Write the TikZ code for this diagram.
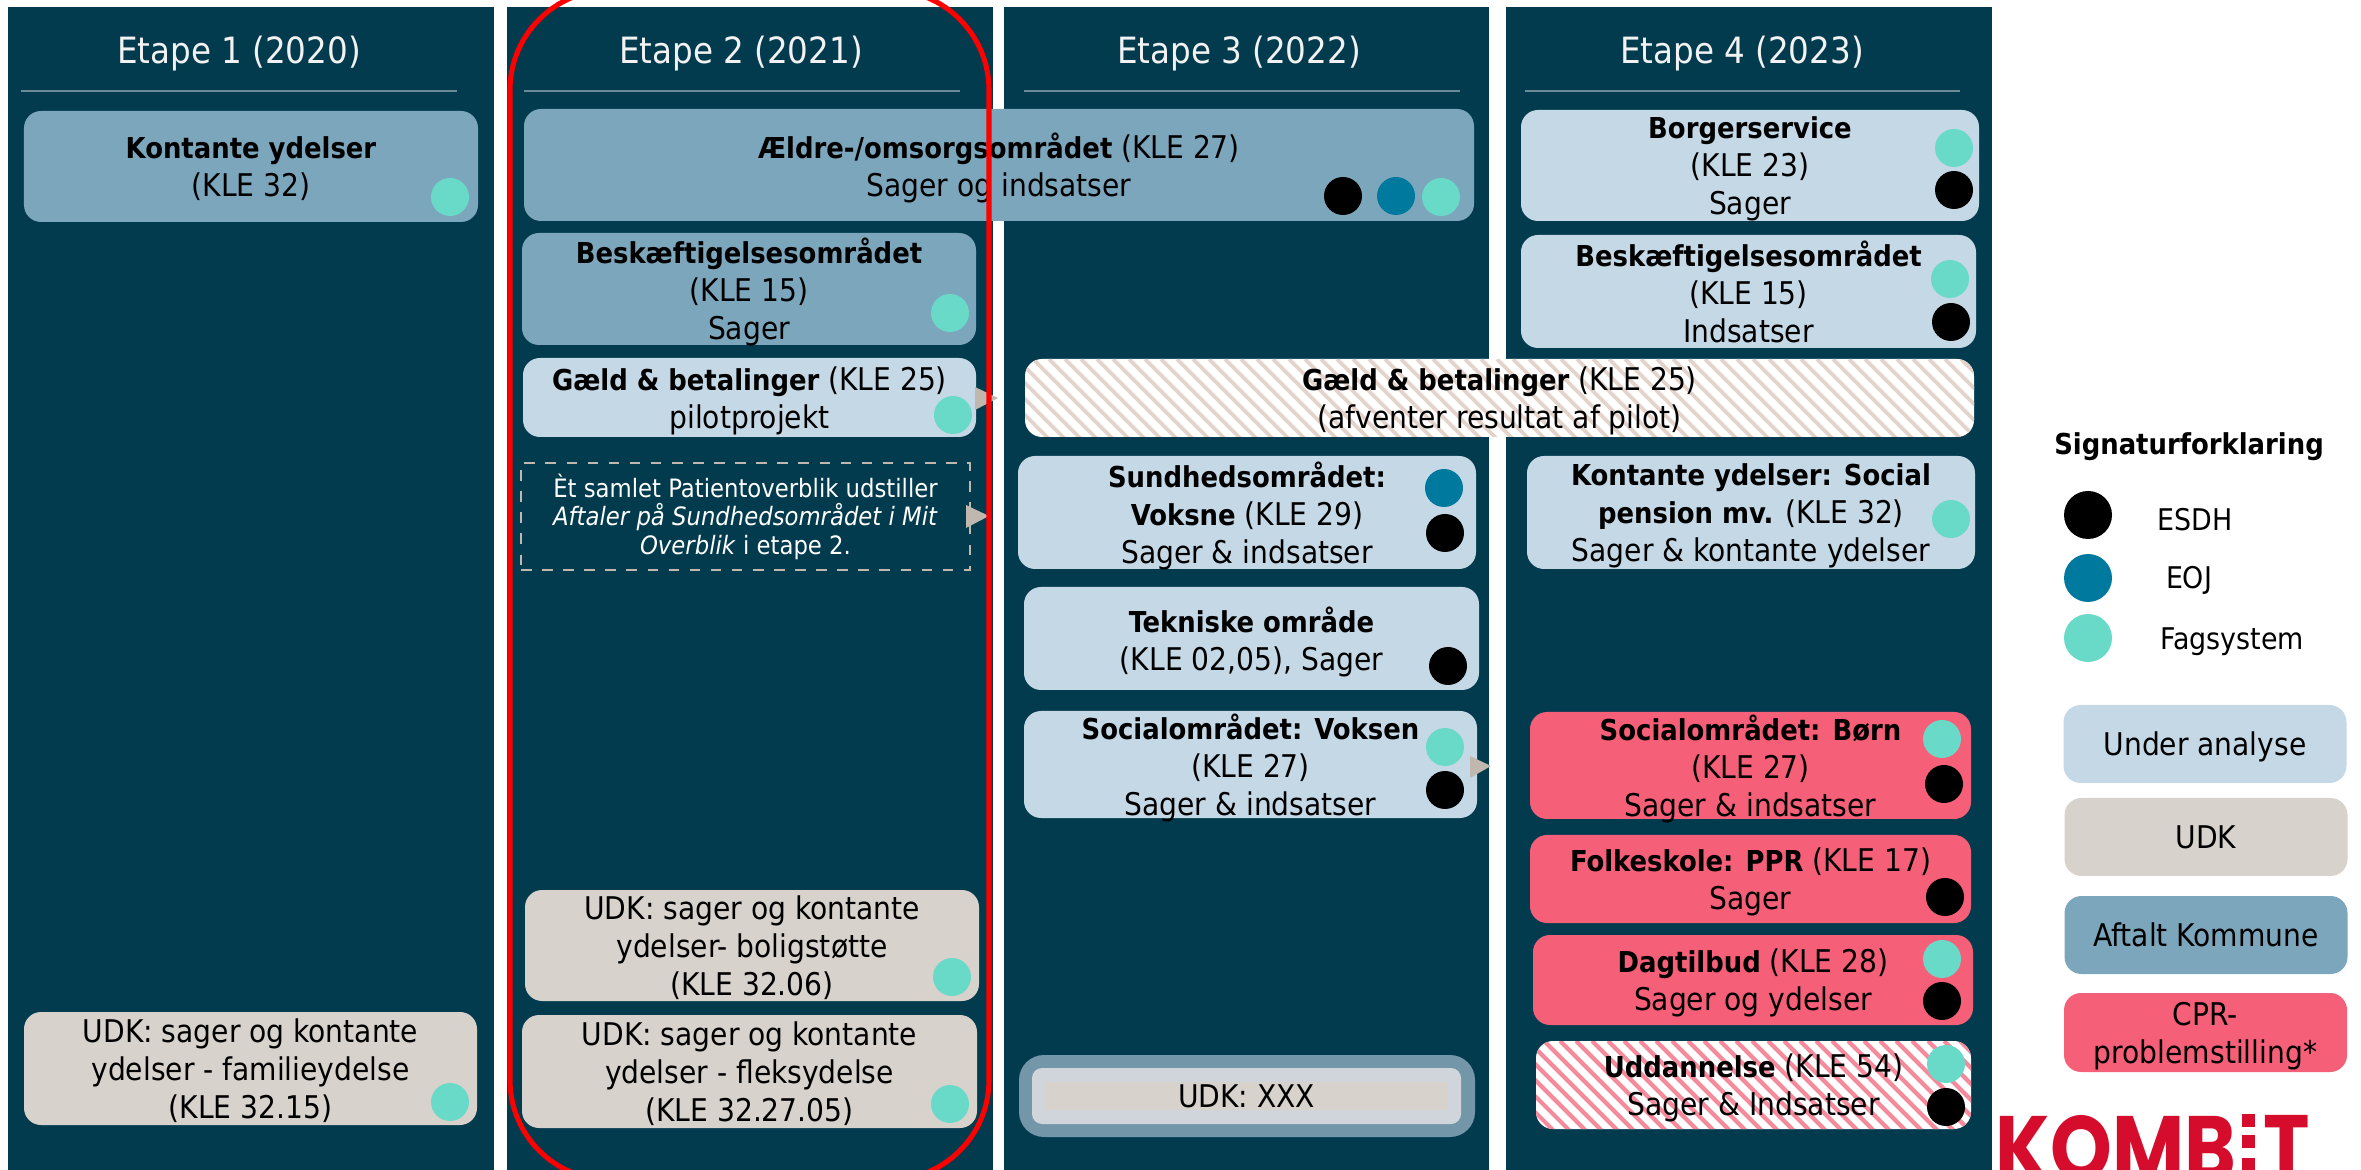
\documentclass[tikz,border=0pt]{standalone}
\usepackage{fontspec}
\setmainfont{DejaVu Sans Condensed}[BoldFeatures={Scale=0.92}]
\newfontfamily\logofont{Poppins}
\definecolor{panelblue}{HTML}{023B4E}
\definecolor{ruleblue}{HTML}{6A8C98}
\definecolor{aftaltblue}{HTML}{7CA6BC}
\definecolor{analyseblue}{HTML}{C5D8E6}
\definecolor{udkgrey}{HTML}{D7D2CB}
\definecolor{cprred}{HTML}{F55F78}
\definecolor{fagteal}{HTML}{69D9C8}
\definecolor{eojblue}{HTML}{00799E}
\definecolor{arrowtan}{HTML}{C0B8AE}
\definecolor{hatchtan}{HTML}{E3D3CB}
\definecolor{hatchpink}{HTML}{F58A9C}
\definecolor{logored}{HTML}{D50C2C}
\definecolor{xxxouter}{HTML}{7397A8}
\definecolor{xxxmid}{HTML}{CFD5DB}
\tikzset{
  card/.style={rectangle,rounded corners=0.17cm,inner sep=0pt,align=center,text=black,text depth=0pt,font=\fontsize{8.9}{10.8}\selectfont},
  aftalt/.style={card,fill=aftaltblue},
  analyse/.style={card,fill=analyseblue},
  udk/.style={card,fill=udkgrey},
  cpr/.style={card,fill=cprred},
  hatched/.style 2 args={card,fill=white,path picture={
      \foreach \k in {-1.2,-1.04,...,9.8}
        \draw[#1,line width=#2] ([xshift=\k cm]path picture bounding box.north west) -- ++(1.3,1.3);
    }},
  dot/.style={circle,inner sep=0pt,minimum size=0.38cm},
  esdh/.style={dot,fill=black},
  eoj/.style={dot,fill=eojblue},
  fag/.style={dot,fill=fagteal},
  legenddot/.style={minimum size=0.48cm},
  head/.style={text=white!95!black,font=\fontsize{10.3}{12}\selectfont},
  legendtext/.style={text=black,font=\fontsize{8.5}{10.8}\selectfont},
  logotext/.style={anchor=north west,inner sep=0pt,text=logored,font=\logofont\bfseries\fontsize{26}{26}\selectfont},
}
\begin{document}
\begin{tikzpicture}[x=1cm,y=-1cm]
\clip (0,0) rectangle (23.61,11.7);

%%%%%%%%%%%%%%%% panels
\fill[panelblue] (0.08,0.07) rectangle (4.94,11.7);
\fill[panelblue] (5.07,0.07) rectangle (9.93,11.7);
\fill[panelblue] (10.04,0.07) rectangle (14.89,11.7);
\fill[panelblue] (15.06,0.07) rectangle (19.92,11.7);

\node[head] (etapeA) at (2.39,0.54) {Etape 1 (2020)};
\node[head] (etapeB) at (7.41,0.54) {Etape 2 (2021)};
\node[head] (etapeC) at (12.39,0.54) {Etape 3 (2022)};
\node[head] (etapeD) at (17.42,0.54) {Etape 4 (2023)};
\draw[ruleblue] (0.21,0.91) -- (4.57,0.91);
\draw[ruleblue] (5.24,0.91) -- (9.60,0.91);
\draw[ruleblue] (10.24,0.91) -- (14.60,0.91);
\draw[ruleblue] (15.25,0.91) -- (19.60,0.91);

%%%%%%%%%%%%%%%% first panel
\node[aftalt,minimum width=4.54cm,minimum height=1.11cm] (kontanteA) at (2.51,1.665) {\textbf{Kontante ydelser}\\(KLE 32)};
\node[udk,minimum width=4.53cm,minimum height=1.13cm] (udkFamilie) at (2.505,10.685) {UDK: sager og kontante\\ydelser - familieydelse\\(KLE 32.15)};
\node[fag] (dotKontanteA) at (4.50,1.97) {};
\node[fag] (dotFamilie) at (4.50,11.02) {};

%%%%%%%%%%%%%%%% second panel
\node[aftalt,minimum width=9.50cm,minimum height=1.12cm] (aeldre) at (9.99,1.65) {\textbf{Ældre-/omsorgsområdet} (KLE 27)\\Sager og indsatser};
\node[esdh] (dotAeldreA) at (13.43,1.96) {};
\node[eoj] (dotAeldreB) at (13.96,1.96) {};
\node[fag] (dotAeldreC) at (14.41,1.97) {};
\node[aftalt,minimum width=4.54cm,minimum height=1.12cm] (beskA) at (7.49,2.89) {\textbf{Beskæftigelsesområdet}\\(KLE 15)\\Sager};
\node[fag] (dotBeskA) at (9.50,3.13) {};
\node[analyse,minimum width=4.53cm,minimum height=0.79cm] (gaeldA) at (7.495,3.975) {\textbf{Gæld \& betalinger} (KLE 25)\\pilotprojekt};
\node[rectangle,draw=arrowtan,dashed,inner sep=0pt,align=center,text=white,minimum width=4.49cm,minimum height=1.07cm,font=\fontsize{7.2}{8.1}\selectfont] (patient) at (7.455,5.165) {Èt samlet Patientoverblik udstiller\\\textit{Aftaler på Sundhedsområdet i Mit}\\\textit{Overblik} i etape 2.};
\node[udk,minimum width=4.54cm,minimum height=1.11cm] (udkBolig) at (7.52,9.455) {UDK: sager og kontante\\ydelser- boligstøtte\\(KLE 32.06)};
\node[fag] (dotBolig) at (9.52,9.77) {};
\node[udk,minimum width=4.55cm,minimum height=1.13cm] (udkFleks) at (7.495,10.715) {UDK: sager og kontante\\ydelser - fleksydelse\\(KLE 32.27.05)};
\node[fag] (dotFleks) at (9.50,11.04) {};

%%%%%%%%%%%%%%%% third panel
\node[hatched={hatchtan}{1.05pt},minimum width=9.49cm,minimum height=0.78cm] (gaeldB) at (14.995,3.98) {\textbf{Gæld \& betalinger} (KLE 25)\\(afventer resultat af pilot)};
\node[analyse,minimum width=4.58cm,minimum height=1.13cm] (sund) at (12.47,5.125) {\textbf{Sundhedsområdet:}\\\textbf{Voksne} (KLE 29)\\Sager \& indsatser};
\node[eoj] (dotSundA) at (14.44,4.88) {};
\node[esdh] (dotSundB) at (14.45,5.33) {};
\node[analyse,minimum width=4.55cm,minimum height=1.03cm] (teknik) at (12.515,6.385) {\textbf{Tekniske område}\\(KLE 02,05), Sager};
\node[esdh] (dotTeknik) at (14.48,6.66) {};
\node[analyse,minimum width=4.53cm,minimum height=1.07cm] (socV) at (12.505,7.645) {\textbf{Socialområdet: Voksen}\\(KLE 27)\\Sager \& indsatser};
\node[card,fill=xxxouter,rounded corners=0.25cm,minimum width=4.56cm,minimum height=0.82cm] (xxxA) at (12.47,10.96) {};
\node[card,fill=xxxmid,rounded corners=0.1cm,minimum width=4.29cm,minimum height=0.56cm] (xxxB) at (12.465,10.96) {};
\node[card,fill=udkgrey,rounded corners=0pt,minimum width=4.03cm,minimum height=0.28cm] (xxxC) at (12.465,10.96) {UDK: XXX};

%% arrows
\fill[arrowtan] (9.75,3.87) -- (9.98,3.98) -- (9.75,4.10) -- cycle;
\fill[arrowtan] (9.66,5.05) -- (9.89,5.16) -- (9.66,5.28) -- cycle;
\fill[arrowtan] (14.70,7.56) -- (14.91,7.66) -- (14.70,7.78) -- cycle;
\node[fag] (dotGaeldA) at (9.53,4.15) {};
\node[fag] (dotSocVA) at (14.45,7.47) {};
\node[esdh] (dotSocVB) at (14.45,7.90) {};

%%%%%%%%%%%%%%%% fourth panel
\node[analyse,minimum width=4.58cm,minimum height=1.11cm] (borger) at (17.50,1.655) {\textbf{Borgerservice}\\(KLE 23)\\Sager};
\node[fag] (dotBorgerA) at (19.54,1.48) {};
\node[esdh] (dotBorgerB) at (19.54,1.90) {};
\node[analyse,minimum width=4.55cm,minimum height=1.13cm] (beskB) at (17.485,2.915) {\textbf{Beskæftigelsesområdet}\\(KLE 15)\\Indsatser};
\node[fag] (dotBeskBA) at (19.50,2.79) {};
\node[esdh] (dotBeskBB) at (19.51,3.22) {};
\node[analyse,minimum width=4.48cm,minimum height=1.13cm] (kontanteB) at (17.51,5.125) {\textbf{Kontante ydelser: Social}\\\textbf{pension mv.} (KLE 32)\\Sager \& kontante ydelser};
\node[fag] (dotKontanteB) at (19.51,5.19) {};
\node[cpr,minimum width=4.41cm,minimum height=1.07cm] (socB) at (17.505,7.655) {\textbf{Socialområdet: Børn}\\(KLE 27)\\Sager \& indsatser};
\node[fag] (dotSocBA) at (19.42,7.39) {};
\node[esdh] (dotSocBB) at (19.44,7.84) {};
\node[cpr,minimum width=4.41cm,minimum height=0.88cm] (folke) at (17.505,8.79) {\textbf{Folkeskole: PPR} (KLE 17)\\Sager};
\node[esdh] (dotFolke) at (19.45,8.97) {};
\node[cpr,minimum width=4.40cm,minimum height=0.90cm] (dag) at (17.53,9.80) {\textbf{Dagtilbud} (KLE 28)\\Sager og ydelser};
\node[fag] (dotDagA) at (19.42,9.59) {};
\node[esdh] (dotDagB) at (19.42,10.01) {};
\node[hatched={hatchpink}{1.2pt},minimum width=4.35cm,minimum height=0.88cm] (uddan) at (17.535,10.85) {\textbf{Uddannelse} (KLE 54)\\Sager \& Indsatser};
\node[fag] (dotUddanA) at (19.46,10.64) {};
\node[esdh] (dotUddanB) at (19.46,11.07) {};

%%%%%%%%%%%%%%%% red frame
\draw[red,line width=1.45pt,rounded corners=1cm] (5.10,-0.10) rectangle (9.89,11.80);

%%%%%%%%%%%%%%%% legend
\node[legendtext,font=\fontsize{8.9}{10.8}\selectfont] (signatur) at (21.89,4.47) {\textbf{Signaturforklaring}};
\node[esdh,legenddot] (legendEsdh) at (20.88,5.15) {};
\node[eoj,legenddot] (legendEoj) at (20.88,5.78) {};
\node[fag,legenddot] (legendFag) at (20.88,6.38) {};
\node[legendtext] (textEsdh) at (21.95,5.20) {ESDH};
\node[legendtext] (textEoj) at (21.89,5.80) {EOJ};
\node[legendtext] (textFag) at (22.32,6.42) {Fagsystem};
\node[analyse,minimum width=2.83cm,minimum height=0.78cm] (boxAnalyse) at (22.05,7.44) {Under analyse};
\node[udk,minimum width=2.83cm,minimum height=0.78cm] (boxUdk) at (22.06,8.37) {UDK};
\node[aftalt,minimum width=2.83cm,minimum height=0.78cm] (boxAftalt) at (22.06,9.35) {Aftalt Kommune};
\node[cpr,minimum width=2.83cm,minimum height=0.79cm] (boxCpr) at (22.055,10.325) {CPR-\\problemstilling*};

%%%%%%%%%%%%%%%% logo
\node[logotext] (logoKomb) at (19.95,11.15) {\scalebox{0.86}[1]{KOMB}};
\node[logotext] (logoT) at (22.63,11.15) {\scalebox{0.86}[1]{T}};
\fill[logored] (22.42,11.14) rectangle (22.55,11.27);
\fill[logored] (22.42,11.35) rectangle (22.55,11.48);
\fill[logored] (22.42,11.58) rectangle (22.55,11.7);
\end{tikzpicture}
\end{document}
